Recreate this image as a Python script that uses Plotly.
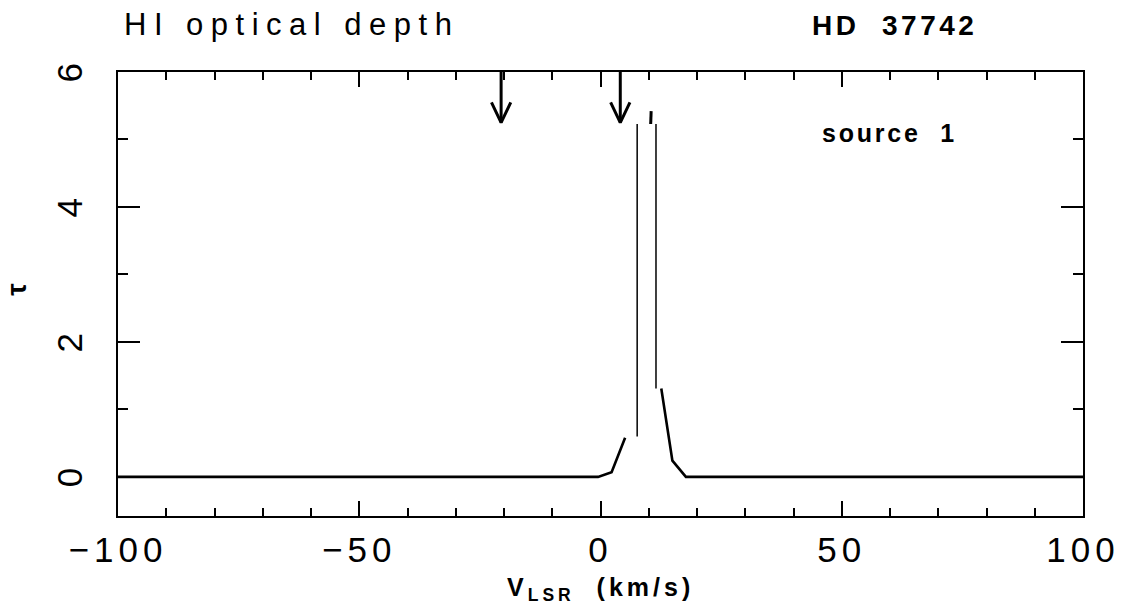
import plotly.graph_objects as go

# ---- data ----
vel = [-100, -0.5, 2.3, 5.1, None, 12.6, 14.9, 17.7, 100]
tau = [0.0, 0.0, 0.07, 0.58, None, 1.31, 0.24, 0.0, 0.0]

sat_v = [7.6, 11.5]          # saturated channels drawn as thin vertical lines
sat_lo = [0.60, 1.31]
sat_hi = [5.23, 5.23]

peak_v = [10.4, 10.5]        # short thick mark at the top of the peak
peak_tau = [5.23, 5.42]

arrow_v = [-20.6, 4.1]       # velocity markers (arrows from the top axis)
arrow_top = 6.0
arrow_tip = 5.25

x_ticks = [-100, -50, 0, 50, 100]
x_labels = ["−100", "−50", "0", "50", "100"]
y_ticks = [0, 2, 4, 6]
y_labels = ["0", "2", "4", "6"]

FONT = "Liberation Sans"


def spaced(s, px):
    return f"<span style='letter-spacing:{px}px'>{s}</span>"


fig = go.Figure()

fig.add_trace(go.Scatter(x=vel, y=tau, mode="lines",
                         line=dict(color="black", width=2.6),
                         connectgaps=False, hoverinfo="skip"))

sx, sy = [], []
for v, lo, hi in zip(sat_v, sat_lo, sat_hi):
    sx += [v, v, None]
    sy += [lo, hi, None]
fig.add_trace(go.Scatter(x=sx, y=sy, mode="lines",
                         line=dict(color="black", width=1.5), hoverinfo="skip"))

fig.add_trace(go.Scatter(x=peak_v, y=peak_tau, mode="lines",
                         line=dict(color="black", width=3), hoverinfo="skip"))

# arrows: shaft + open V head
head_dx = 2.0
head_dy = 0.30
ax, ay = [], []
for v in arrow_v:
    ax += [v, v, None, v - head_dx, v, v + head_dx, None]
    ay += [arrow_top, arrow_tip, None, arrow_tip + head_dy, arrow_tip, arrow_tip + head_dy, None]
fig.add_trace(go.Scatter(x=ax, y=ay, mode="lines",
                         line=dict(color="black", width=3), hoverinfo="skip"))

axis_common = dict(showline=True, linecolor="black", linewidth=2, mirror="allticks",
                   ticks="inside", tickcolor="black", tickwidth=1.6,
                   showgrid=False, zeroline=False,
                   tickfont=dict(family=FONT, size=35, color="black"))

fig.update_xaxes(range=[-100, 100], tickvals=x_ticks,
                 ticktext=[spaced(t, 5) for t in x_labels], ticklen=15,
                 minor=dict(ticks="inside", dtick=10, ticklen=8, tickcolor="black", tickwidth=1.6),
                 ticklabelstandoff=2, **axis_common)
fig.update_yaxes(range=[-0.58, 6], tickvals=y_ticks, ticktext=y_labels,
                 ticklen=22, tickangle=-90, ticklabelshift=6,
                 minor=dict(ticks="inside", dtick=1, ticklen=10, tickcolor="black", tickwidth=1.6),
                 ticklabelstandoff=20, **axis_common)

annotations = [
    dict(text=spaced("HI optical depth", 7.5), x=0.004, y=1.107, xanchor="left", yanchor="middle",
         font=dict(family=FONT, size=31, color="black")),
    dict(text="<b>" + spaced("HD  37742", 3.5) + "</b>", x=0.717, y=1.105, xanchor="left",
         yanchor="middle", font=dict(family=FONT, size=28, color="black")),
    dict(text="<b>" + spaced("source  1", 2.8) + "</b>", x=0.727, y=0.862, xanchor="left",
         yanchor="middle", font=dict(family=FONT, size=25, color="black")),
    dict(text="<b>τ</b>", x=-0.106, y=0.511, xanchor="center", yanchor="middle", textangle=-90,
         font=dict(family=FONT, size=28, color="black")),
    dict(text="<b>" + spaced("V<sub>LSR</sub>  (km/s)", 4) + "</b>", x=0.5, y=-0.165,
         xanchor="center", yanchor="middle",
         font=dict(family=FONT, size=25, color="black")),
]
for a in annotations:
    a.update(xref="paper", yref="paper", showarrow=False)

fig.update_layout(width=1135, height=615, margin=dict(l=118, r=52, t=72, b=99),
                  paper_bgcolor="white", plot_bgcolor="white", showlegend=False,
                  annotations=annotations)

fig.write_html("out.html")
